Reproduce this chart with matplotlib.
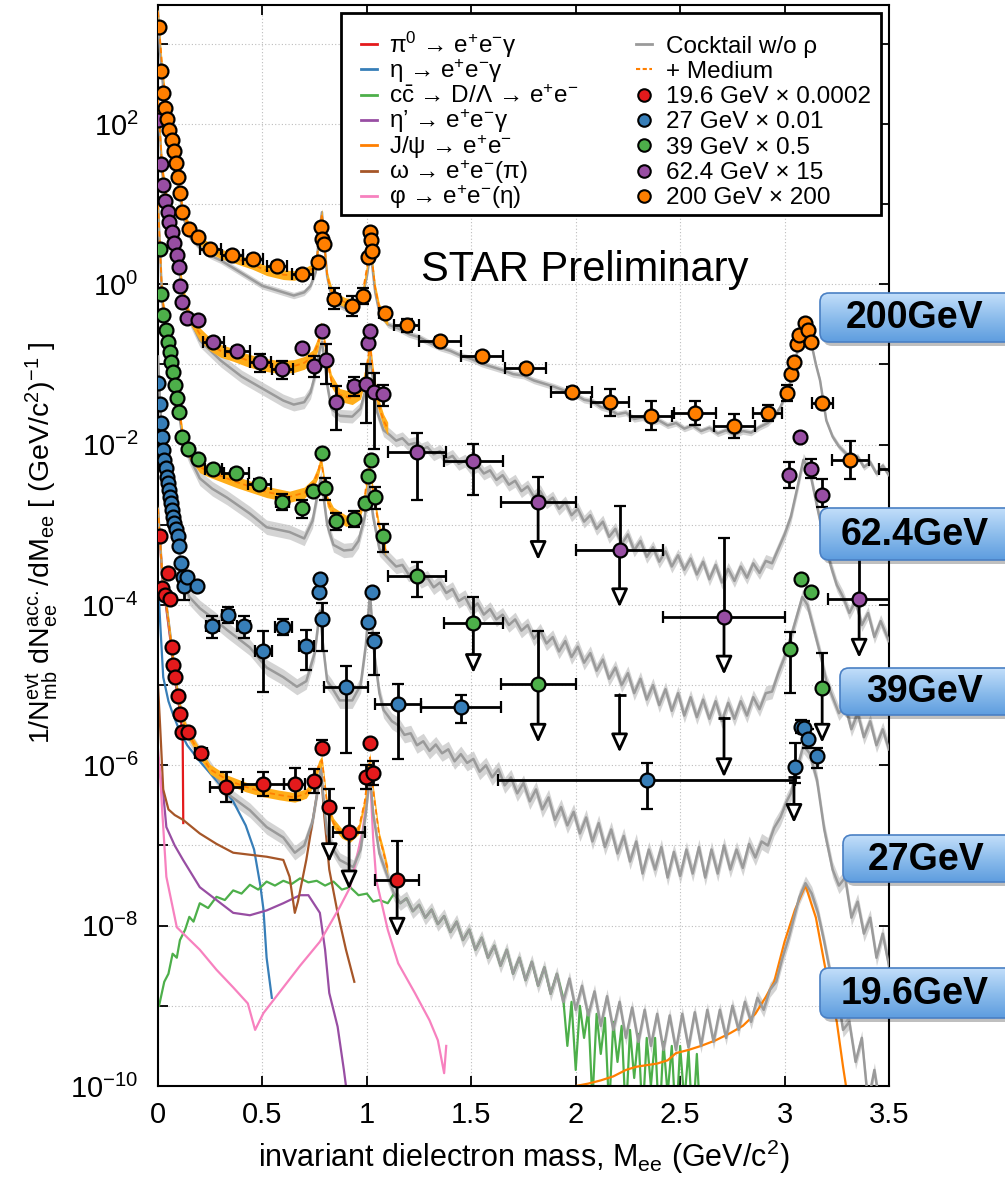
import numpy as np
import matplotlib
matplotlib.use("Agg")
import matplotlib.pyplot as plt
from matplotlib.patches import FancyBboxPatch, Rectangle
from matplotlib.ticker import FixedLocator, NullFormatter, LogFormatterSciNotation
from matplotlib.colors import LinearSegmentedColormap

plt.rcParams['font.family'] = ['Liberation Sans', 'DejaVu Sans']
plt.rcParams['mathtext.fontset'] = 'custom'
plt.rcParams['mathtext.rm'] = 'Liberation Sans'
plt.rcParams['mathtext.it'] = 'Liberation Sans:italic'
plt.rcParams['mathtext.bf'] = 'Liberation Sans:bold'

# ---------------- data (values are log10 of the plotted yield) ----------------
# 200 GeV x 200
m200 = [0.005, 0.015, 0.025, 0.035, 0.045, 0.055, 0.065, 0.075, 0.085, 0.095,
        0.105, 0.115, 0.15, 0.19, 0.25, 0.355, 0.455, 0.57, 0.69, 0.765,
        0.78, 0.785, 0.795, 0.845, 0.93, 0.98, 1.005, 1.015, 1.02, 1.025,
        1.085, 1.19, 1.35, 1.55, 1.76, 1.98, 2.165, 2.36, 2.57, 2.76,
        2.92, 3.01, 3.03, 3.045, 3.06, 3.07, 3.10, 3.11, 3.125, 3.18,
        3.315, 3.55]
lg200 = [3.21, 2.66, 2.39, 2.20, 2.06, 1.93, 1.80, 1.66, 1.51, 1.34,
         1.14, 0.90, 0.69, 0.59, 0.44, 0.37, 0.32, 0.23, 0.13, 0.28,
         0.72, 0.57, 0.50, -0.18, -0.27, -0.14, 0.34, 0.65, 0.55, 0.42,
         -0.36, -0.51, -0.71, -0.89, -1.04, -1.34, -1.47, -1.64, -1.60, -1.77,
         -1.60, -1.35, -1.12, -0.97, -0.74, -0.63, -0.48, -0.57, -0.72, -1.48,
         -2.19, -2.30]
dm200 = [0, 0, 0, 0, 0, 0, 0, 0, 0, 0,
         0, 0, 0, 0, 0.05, 0.05, 0.05, 0.05, 0.05, 0,
         0, 0, 0, 0.025, 0.02, 0, 0, 0, 0, 0,
         0.025, 0.06, 0.1, 0.1, 0.1, 0.1, 0.09, 0.1, 0.1, 0.1,
         0.07, 0, 0, 0, 0, 0, 0, 0, 0, 0.05,
         0.09, 0.1]
dl200 = [0.02, 0.02, 0.02, 0.02, 0.02, 0.02, 0.02, 0.02, 0.02, 0.02,
         0.02, 0.02, 0.02, 0.02, 0.04, 0.04, 0.04, 0.05, 0.05, 0.05,
         0.03, 0.03, 0.03, 0.13, 0.12, 0.1, 0.03, 0.03, 0.03, 0.03,
         0.06, 0.08, 0.05, 0.05, 0.05, 0.06, 0.17, 0.18, 0.15, 0.15,
         0.1, 0.1, 0.03, 0.03, 0.03, 0.03, 0.03, 0.03, 0.03, 0.04,
         0.24, 0.3]

# 62.4 GeV x 15
m62 = [0.0, 0.015, 0.024, 0.035, 0.046, 0.055, 0.065, 0.075, 0.09, 0.10,
       0.105, 0.115, 0.14, 0.19, 0.265, 0.38, 0.49, 0.595, 0.69, 0.745,
       0.785, 0.805, 0.85, 0.94, 0.995, 1.005, 1.015, 1.035, 1.075, 1.24,
       1.51, 1.82, 2.21, 2.71, 3.02, 3.075, 3.127, 3.18, 3.357]
lg62 = [2.05, 1.50, 1.24, 1.04, 0.90, 0.78, 0.65, 0.52, 0.37, 0.22,
        -0.02, -0.22, -0.42, -0.44, -0.72, -0.83, -0.97, -1.06, -0.79, -1.02,
        -0.58, -0.94, -1.47, -1.27, -1.24, -0.73, -0.58, -1.34, -1.37, -2.09,
        -2.20, -2.71, -3.31, -4.15, -2.38, -1.90, -2.30, -2.63, -3.92]
dm62 = [0, 0, 0, 0, 0, 0, 0, 0, 0, 0,
        0, 0, 0, 0, 0.05, 0.06, 0.05, 0.05, 0, 0,
        0, 0, 0, 0.025, 0, 0, 0, 0, 0, 0.14,
        0.14, 0.18, 0.21, 0.29, 0, 0, 0, 0, 0.15]
dlo62 = [0.02, 0.02, 0.02, 0.02, 0.02, 0.02, 0.02, 0.02, 0.02, 0.02,
         0.02, 0.02, 0.02, 0.02, 0.05, 0.05, 0.12, 0.12, 0.03, 0.13,
         0.04, 0.3, 0.35, 0.12, 0.49, 0.03, 0.03, 0.72, 0.15, 0.6,
         0.43, 0, 0, 0, 0.16, 0.03, 0.12, 0.15, 0]
dhi62 = [0.02, 0.02, 0.02, 0.02, 0.02, 0.02, 0.02, 0.02, 0.02, 0.02,
         0.02, 0.02, 0.02, 0.02, 0.05, 0.05, 0.1, 0.1, 0.03, 0.13,
         0.04, 0.2, 0.2, 0.12, 0.24, 0.03, 0.03, 0.24, 0.12, 0.24,
         0.21, 0.31, 0.55, 0.98, 0.16, 0.03, 0.12, 0.2, 0.52]
lim62_m = [1.82, 2.21, 2.71, 3.357]
lim62_top = [-2.71, -3.31, -4.15, -3.92]
lim62_tip = [-3.44, -4.03, -4.87, -4.66]

# 39 GeV x 0.5
m39 = [0.01, 0.015, 0.025, 0.038, 0.048, 0.057, 0.062, 0.072, 0.08, 0.09,
       0.10, 0.115, 0.145, 0.19, 0.265, 0.375, 0.485, 0.595, 0.69, 0.74,
       0.785, 0.80, 0.85, 0.94, 0.99, 1.005, 1.02, 1.04, 1.075, 1.24,
       1.51, 1.82, 3.027, 3.08, 3.127, 3.18]
lg39 = [0.44, -0.12, -0.38, -0.57, -0.72, -0.84, -0.97, -1.09, -1.26, -1.42,
        -1.59, -1.90, -2.05, -2.18, -2.30, -2.35, -2.49, -2.71, -2.79, -2.58,
        -2.11, -2.54, -2.95, -2.93, -2.73, -2.39, -2.19, -2.65, -3.14, -3.64,
        -4.22, -4.98, -4.55, -3.67, -3.84, -5.04]
dm39 = [0, 0, 0, 0, 0, 0, 0, 0, 0, 0,
        0, 0, 0, 0, 0.04, 0.06, 0.055, 0.03, 0, 0,
        0, 0, 0, 0, 0, 0, 0, 0, 0, 0.14,
        0.14, 0.18, 0, 0, 0, 0]
dlo39 = [0.02, 0.02, 0.02, 0.02, 0.02, 0.02, 0.02, 0.02, 0.02, 0.02,
         0.02, 0.02, 0.02, 0.02, 0.04, 0.05, 0.06, 0.1, 0.12, 0.05,
         0.03, 0.15, 0.12, 0.1, 0.05, 0.03, 0.03, 0.15, 0.2, 0.26,
         0, 0, 0.55, 0.03, 0.03, 0]
dhi39 = [0.02, 0.02, 0.02, 0.02, 0.02, 0.02, 0.02, 0.02, 0.02, 0.02,
         0.02, 0.02, 0.02, 0.02, 0.04, 0.05, 0.06, 0.1, 0.1, 0.05,
         0.03, 0.12, 0.1, 0.1, 0.05, 0.03, 0.03, 0.12, 0.15, 0.18,
         0.32, 0.65, 0.21, 0.03, 0.03, 0.44]
lim39_m = [1.51, 1.82, 3.18]
lim39_top = [-4.22, -4.98, -5.04]
lim39_tip = [-4.85, -5.72, -5.72]
ul39_m = [2.21, 2.71]
ul39_top = [-5.12, -5.41]
ul39_tip = [-5.84, -6.15]

# 27 GeV x 0.01
m27 = [0.0, 0.01, 0.015, 0.02, 0.025, 0.03, 0.037, 0.043, 0.048, 0.053,
       0.057, 0.062, 0.067, 0.072, 0.077, 0.086, 0.096, 0.10, 0.11, 0.12,
       0.125, 0.14, 0.187, 0.26, 0.335, 0.41, 0.505, 0.60, 0.71, 0.77,
       0.775, 0.785, 0.90, 1.005, 1.025, 1.035, 1.15, 1.45, 2.34, 3.05,
       3.08, 3.095, 3.11, 3.155]
lg27 = [-1.23, -1.49, -1.73, -1.90, -2.07, -2.19, -2.29, -2.40, -2.48, -2.56,
        -2.65, -2.73, -2.81, -2.90, -2.98, -3.05, -3.14, -3.27, -3.47, -3.65,
        -3.76, -3.65, -3.76, -4.26, -4.12, -4.26, -4.57, -4.27, -4.51, -3.84,
        -3.67, -4.18, -5.02, -4.21, -3.84, -4.45, -5.23, -5.27, -6.18, -6.02,
        -5.52, -5.53, -5.67, -5.88]
dm27 = [0, 0, 0, 0, 0, 0, 0, 0, 0, 0,
        0, 0, 0, 0, 0, 0, 0, 0, 0, 0,
        0, 0, 0.02, 0.03, 0.03, 0.03, 0.04, 0.04, 0.035, 0,
        0, 0, 0.105, 0, 0, 0, 0.11, 0.19, 0.71, 0,
        0, 0, 0, 0]
dlo27 = [0.02, 0.02, 0.02, 0.02, 0.02, 0.02, 0.02, 0.02, 0.02, 0.02,
         0.02, 0.02, 0.02, 0.02, 0.02, 0.02, 0.02, 0.02, 0.02, 0.02,
         0.18, 0.03, 0.05, 0.15, 0.1, 0.15, 0.52, 0.1, 0.3, 0.03,
         0.03, 0.4, 0.82, 0.03, 0.03, 0.42, 0.69, 0.2, 0.37, 0.2,
         0.08, 0.08, 0.12, 0.15]
dhi27 = [0.02, 0.02, 0.02, 0.02, 0.02, 0.02, 0.02, 0.02, 0.02, 0.02,
         0.02, 0.02, 0.02, 0.02, 0.02, 0.02, 0.02, 0.02, 0.02, 0.02,
         0.0, 0.03, 0.05, 0.12, 0.1, 0.12, 0.24, 0.1, 0.2, 0.03,
         0.03, 0.2, 0.26, 0.03, 0.03, 0.1, 0.24, 0.15, 0.21, 0.3,
         0.08, 0.08, 0.12, 0.1]
ul27_m = [3.045]
ul27_top = [-6.14]
ul27_tip = [-6.72]

# 19.6 GeV x 0.0002
m19 = [0.01, 0.019, 0.033, 0.048, 0.057, 0.067, 0.072, 0.081, 0.096, 0.105,
       0.115, 0.144, 0.205, 0.325, 0.505, 0.655, 0.745, 0.785, 0.82, 0.915,
       0.995, 1.015, 1.03, 1.145]
lg19 = [-3.14, -3.79, -3.87, -3.60, -3.92, -4.52, -4.75, -4.90, -5.14, -5.36,
        -5.59, -5.59, -5.84, -6.27, -6.23, -6.23, -6.19, -5.78, -6.52, -6.83,
        -6.14, -5.72, -6.10, -7.43]
dm19 = [0, 0, 0, 0, 0, 0, 0, 0, 0, 0,
        0, 0, 0.03, 0.077, 0.1, 0.05, 0, 0, 0, 0.075,
        0, 0, 0, 0.105]
dlo19 = [0.06, 0.02, 0.02, 0.02, 0.02, 0.02, 0.02, 0.02, 0.02, 0.02,
         0.02, 0.02, 0.03, 0.19, 0.15, 0.2, 0.15, 0.05, 0, 0,
         0.15, 0.03, 0.15, 0]
dhi19 = [0.06, 0.02, 0.02, 0.02, 0.02, 0.02, 0.02, 0.02, 0.02, 0.02,
         0.02, 0.02, 0.03, 0.19, 0.15, 0.2, 0.15, 0.1, 0.22, 0.3,
         0.15, 0.03, 0.15, 0.48]
lim19_m = [0.82, 0.915, 1.145]
lim19_top = [-6.52, -6.83, -7.43]
lim19_tip = [-7.21, -7.55, -8.14]

# cocktail w/o rho (grey), (mass, log10 yield) pairs
coc200 = [(0.0, 3.4), (0.01, 2.9), (0.03, 2.3), (0.05, 1.95), (0.08, 1.5), (0.1, 1.2), (0.12, 0.85),
          (0.15, 0.6), (0.2, 0.46), (0.25, 0.36), (0.3, 0.3), (0.35, 0.22), (0.4, 0.14), (0.45, 0.06),
          (0.5, -0.02), (0.55, -0.06), (0.6, -0.1), (0.65, -0.14), (0.7, -0.1), (0.73, -0.02),
          (0.755, 0.15), (0.775, 0.7), (0.785, 0.9), (0.795, 0.55), (0.81, 0.1), (0.83, -0.15),
          (0.86, -0.25), (0.9, -0.3), (0.95, -0.28), (0.98, -0.15), (1.0, 0.1), (1.015, 0.36),
          (1.025, 0.25), (1.04, -0.1), (1.06, -0.35), (1.1, -0.5), (1.15, -0.55), (1.2, -0.62),
          (1.25, -0.66), (1.3, -0.73), (1.35, -0.79), (1.4, -0.83), (1.45, -0.89), (1.5, -0.93),
          (1.55, -0.99), (1.6, -1.03), (1.65, -1.07), (1.7, -1.12), (1.75, -1.14), (1.8, -1.20),
          (1.85, -1.24), (1.9, -1.28), (1.95, -1.33), (2.0, -1.38), (2.04, -1.44), (2.08, -1.46),
          (2.12, -1.53), (2.16, -1.56), (2.20, -1.62), (2.24, -1.60), (2.28, -1.68), (2.32, -1.66),
          (2.36, -1.72), (2.40, -1.70), (2.44, -1.76), (2.48, -1.73), (2.52, -1.80), (2.56, -1.76),
          (2.60, -1.83), (2.64, -1.79), (2.68, -1.86), (2.72, -1.82), (2.76, -1.88), (2.80, -1.83),
          (2.84, -1.85), (2.88, -1.78), (2.92, -1.73), (2.95, -1.65), (2.98, -1.53), (3.01, -1.36),
          (3.03, -1.20), (3.05, -0.98), (3.065, -0.79), (3.09, -0.61), (3.12, -0.66), (3.135, -0.82),
          (3.15, -1.0), (3.17, -1.20), (3.2, -1.70), (3.23, -1.90), (3.26, -2.02), (3.29, -2.10),
          (3.32, -2.18), (3.35, -2.15), (3.38, -2.28), (3.41, -2.22), (3.44, -2.36), (3.47, -2.26),
          (3.5, -2.38)]
coc62 = [(0.0, 2.3), (0.02, 1.4), (0.05, 0.85), (0.08, 0.45), (0.1, 0.2), (0.12, -0.15), (0.15, -0.42),
         (0.2, -0.7), (0.3, -0.95), (0.4, -1.15), (0.5, -1.3), (0.6, -1.45), (0.65, -1.5), (0.7, -1.47),
         (0.73, -1.35), (0.755, -1.1), (0.775, -0.8), (0.785, -0.72), (0.795, -0.9), (0.81, -1.25),
         (0.83, -1.55), (0.87, -1.64), (0.93, -1.65), (0.97, -1.55), (0.995, -1.3), (1.015, -0.9),
         (1.03, -1.2), (1.05, -1.6), (1.08, -1.82), (1.11, -1.88), (1.14, -1.95), (1.17, -1.92),
         (1.20, -2.00), (1.23, -1.98), (1.26, -2.06), (1.29, -2.03), (1.32, -2.12), (1.35, -2.08),
         (1.38, -2.18), (1.41, -2.14), (1.44, -2.24), (1.47, -2.20), (1.50, -2.30), (1.53, -2.26),
         (1.56, -2.36), (1.59, -2.32), (1.62, -2.44), (1.65, -2.38), (1.68, -2.50), (1.71, -2.45),
         (1.74, -2.58), (1.77, -2.52), (1.80, -2.65), (1.83, -2.58), (1.86, -2.72), (1.89, -2.66),
         (1.92, -2.80), (1.95, -2.72), (1.98, -2.88), (2.01, -2.80), (2.04, -2.96), (2.07, -2.88),
         (2.10, -3.05), (2.13, -2.96), (2.16, -3.15), (2.19, -3.05), (2.22, -3.24), (2.25, -3.12),
         (2.28, -3.32), (2.31, -3.20), (2.34, -3.40), (2.37, -3.28), (2.40, -3.46), (2.43, -3.33),
         (2.46, -3.52), (2.49, -3.38), (2.52, -3.56), (2.55, -3.42), (2.58, -3.62), (2.61, -3.46),
         (2.64, -3.68), (2.67, -3.50), (2.70, -3.72), (2.73, -3.55), (2.76, -3.70), (2.79, -3.52),
         (2.82, -3.66), (2.85, -3.48), (2.88, -3.60), (2.91, -3.45), (2.94, -3.48), (2.97, -3.30),
         (3.00, -3.12), (3.03, -2.9), (3.06, -2.55), (3.09, -2.19), (3.12, -2.32), (3.15, -2.7),
         (3.18, -3.07), (3.22, -3.5), (3.25, -3.75), (3.28, -3.9), (3.31, -4.1), (3.34, -3.95),
         (3.37, -4.25), (3.40, -4.1), (3.43, -4.4), (3.46, -4.2), (3.5, -4.45)]
coc39 = [(0.0, 1.0), (0.01, 0.4), (0.02, -0.2), (0.04, -0.6), (0.06, -0.9), (0.08, -1.25), (0.1, -1.6),
         (0.12, -1.95), (0.15, -2.15), (0.2, -2.42), (0.26, -2.55), (0.33, -2.66), (0.44, -2.86),
         (0.52, -3.03), (0.63, -3.09), (0.70, -3.17), (0.74, -2.95), (0.765, -2.6), (0.78, -2.41),
         (0.79, -2.6), (0.81, -3.0), (0.84, -3.25), (0.89, -3.32), (0.93, -3.31), (0.96, -3.2),
         (0.99, -2.9), (1.01, -2.48), (1.03, -2.9), (1.06, -3.3), (1.11, -3.44), (1.14, -3.52),
         (1.17, -3.50), (1.20, -3.62), (1.23, -3.58), (1.26, -3.70), (1.29, -3.66), (1.32, -3.78),
         (1.35, -3.72), (1.38, -3.85), (1.41, -3.80), (1.44, -3.95), (1.47, -3.90), (1.50, -4.05),
         (1.53, -3.98), (1.56, -4.12), (1.59, -4.05), (1.62, -4.18), (1.65, -4.12), (1.68, -4.25),
         (1.71, -4.18), (1.74, -4.32), (1.77, -4.25), (1.80, -4.42), (1.83, -4.32), (1.86, -4.48),
         (1.89, -4.40), (1.92, -4.58), (1.95, -4.45), (1.98, -4.65), (2.01, -4.52), (2.04, -4.72),
         (2.07, -4.60), (2.10, -4.82), (2.13, -4.68), (2.16, -4.92), (2.19, -4.78), (2.22, -5.00),
         (2.25, -4.85), (2.28, -5.10), (2.31, -4.92), (2.34, -5.18), (2.37, -5.00), (2.40, -5.25),
         (2.43, -5.05), (2.46, -5.32), (2.49, -5.10), (2.52, -5.38), (2.55, -5.15), (2.58, -5.40),
         (2.61, -5.18), (2.64, -5.42), (2.67, -5.20), (2.70, -5.45), (2.73, -5.22), (2.76, -5.42),
         (2.79, -5.20), (2.82, -5.38), (2.85, -5.15), (2.88, -5.30), (2.91, -5.10), (2.94, -5.08),
         (2.97, -4.85), (3.00, -4.65), (3.04, -4.31), (3.085, -3.90), (3.11, -4.0), (3.14, -4.3),
         (3.17, -4.6), (3.2, -4.95), (3.23, -5.15), (3.26, -5.35), (3.29, -5.25), (3.32, -5.55),
         (3.35, -5.35), (3.38, -5.65), (3.41, -5.45), (3.44, -5.75), (3.47, -5.55), (3.5, -5.8)]
coc27 = [(0.0, -0.9), (0.01, -1.5), (0.02, -1.9), (0.04, -2.35), (0.06, -2.7), (0.08, -3.0), (0.1, -3.3),
         (0.12, -3.7), (0.15, -3.9), (0.2, -4.04), (0.27, -4.18), (0.33, -4.31), (0.44, -4.53),
         (0.52, -4.78), (0.6, -4.90), (0.665, -5.02), (0.71, -4.95), (0.75, -4.6), (0.775, -4.07),
         (0.79, -4.5), (0.81, -4.95), (0.83, -5.02), (0.87, -5.19), (0.93, -5.19), (0.97, -5.0),
         (0.995, -4.5), (1.015, -3.85), (1.035, -4.6), (1.06, -5.1), (1.08, -5.31), (1.12, -5.45),
         (1.15, -5.50), (1.18, -5.62), (1.21, -5.60), (1.24, -5.75), (1.27, -5.70), (1.30, -5.82),
         (1.33, -5.74), (1.36, -5.85), (1.39, -5.80), (1.42, -5.95), (1.45, -5.86), (1.48, -5.97),
         (1.51, -5.92), (1.54, -6.08), (1.57, -6.00), (1.60, -6.15), (1.63, -6.05), (1.66, -6.25),
         (1.69, -6.15), (1.72, -6.35), (1.75, -6.22), (1.78, -6.45), (1.81, -6.30), (1.84, -6.55),
         (1.87, -6.40), (1.90, -6.68), (1.93, -6.52), (1.96, -6.75), (1.99, -6.58), (2.02, -6.85),
         (2.05, -6.65), (2.08, -6.95), (2.11, -6.72), (2.14, -7.02), (2.17, -6.80), (2.20, -7.10),
         (2.23, -6.88), (2.26, -7.20), (2.29, -6.95), (2.32, -7.35), (2.35, -7.05), (2.38, -7.30),
         (2.41, -7.02), (2.44, -7.40), (2.47, -7.08), (2.50, -7.38), (2.53, -7.05), (2.56, -7.35),
         (2.59, -7.02), (2.62, -7.40), (2.65, -7.05), (2.68, -7.35), (2.71, -7.00), (2.74, -7.30),
         (2.77, -7.05), (2.80, -7.28), (2.83, -6.98), (2.86, -7.15), (2.89, -6.95), (2.92, -7.0),
         (2.95, -6.78), (2.98, -6.65), (3.01, -6.45), (3.03, -6.35), (3.05, -6.15), (3.07, -5.95),
         (3.09, -5.75), (3.12, -5.85), (3.155, -6.18), (3.19, -6.8), (3.23, -7.3), (3.26, -7.5),
         (3.29, -7.4), (3.32, -7.9), (3.35, -7.7), (3.38, -8.1), (3.41, -7.9), (3.44, -8.4),
         (3.47, -8.1), (3.5, -8.5)]
coc19 = [(0.0, -2.8), (0.01, -3.2), (0.02, -3.6), (0.04, -4.0), (0.06, -4.4), (0.08, -4.85), (0.1, -5.2),
         (0.12, -5.44), (0.15, -5.65), (0.2, -5.85), (0.28, -6.15), (0.33, -6.35), (0.44, -6.56),
         (0.52, -6.77), (0.60, -6.90), (0.655, -7.09), (0.70, -7.0), (0.74, -6.7), (0.765, -6.3),
         (0.78, -6.02), (0.795, -6.5), (0.81, -6.85), (0.84, -7.05), (0.87, -7.18), (0.935, -7.27),
         (0.97, -7.05), (0.995, -6.6), (1.015, -6.10), (1.03, -6.6), (1.06, -7.1), (1.10, -7.39),
         (1.13, -7.60), (1.16, -7.72), (1.19, -7.66), (1.22, -7.82), (1.25, -7.74), (1.28, -7.90),
         (1.31, -7.80), (1.34, -7.98), (1.37, -7.88), (1.40, -8.08), (1.43, -7.95), (1.46, -8.18),
         (1.49, -8.05), (1.52, -8.30), (1.55, -8.15), (1.58, -8.40), (1.61, -8.25), (1.64, -8.50),
         (1.67, -8.30), (1.70, -8.60), (1.73, -8.40), (1.76, -8.68), (1.79, -8.45), (1.82, -8.75),
         (1.85, -8.52), (1.88, -8.85), (1.91, -8.60), (1.94, -8.95), (1.97, -8.66), (2.00, -9.05),
         (2.03, -8.75), (2.06, -9.12), (2.09, -8.82), (2.12, -9.25), (2.15, -8.88), (2.18, -9.30),
         (2.21, -8.95), (2.24, -9.40), (2.27, -9.02), (2.30, -9.45), (2.33, -9.05), (2.36, -9.50),
         (2.39, -9.10), (2.42, -9.55), (2.45, -9.12), (2.48, -9.55), (2.51, -9.10), (2.54, -9.52),
         (2.57, -9.08), (2.60, -9.50), (2.63, -9.05), (2.66, -9.45), (2.69, -9.05), (2.72, -9.40),
         (2.75, -9.00), (2.78, -9.30), (2.81, -8.95), (2.84, -9.20), (2.87, -8.90), (2.90, -9.05),
         (2.93, -8.80), (2.96, -8.70), (2.99, -8.40), (3.02, -8.15), (3.05, -7.85), (3.07, -7.65),
         (3.10, -7.47), (3.13, -7.6), (3.16, -7.84), (3.19, -8.2), (3.22, -8.6), (3.25, -8.8),
         (3.28, -9.3), (3.31, -9.2), (3.34, -9.7), (3.37, -9.4), (3.40, -10.2), (3.43, -9.8),
         (3.46, -10.3), (3.5, -10.2)]
coc_unc = [0.04, 0.08, 0.09, 0.1, 0.09]   # half width of grey band, decades

# cocktail + medium (orange band)
med200 = [(0.0, 3.4), (0.02, 2.7), (0.05, 2.0), (0.08, 1.55), (0.1, 1.25), (0.12, 0.9), (0.15, 0.7),
          (0.2, 0.55), (0.25, 0.45), (0.3, 0.38), (0.36, 0.33), (0.45, 0.25), (0.52, 0.17), (0.6, 0.12),
          (0.65, 0.11), (0.7, 0.14), (0.74, 0.2), (0.76, 0.3), (0.775, 0.7), (0.785, 0.88), (0.795, 0.55),
          (0.81, 0.1), (0.83, -0.08), (0.86, -0.18), (0.9, -0.23), (0.95, -0.24), (0.98, -0.1),
          (1.0, 0.2), (1.015, 0.5), (1.025, 0.3), (1.04, -0.05), (1.06, -0.3), (1.08, -0.4), (1.1, -0.45)]
med62 = [(0.0, 2.3), (0.02, 1.45), (0.05, 0.9), (0.08, 0.5), (0.1, 0.25), (0.12, -0.1), (0.15, -0.4),
         (0.2, -0.62), (0.25, -0.75), (0.3, -0.83), (0.36, -0.88), (0.42, -0.94), (0.5, -1.0),
         (0.58, -1.03), (0.65, -1.02), (0.7, -0.98), (0.74, -0.9), (0.765, -0.75), (0.78, -0.55),
         (0.79, -0.6), (0.81, -0.95), (0.83, -1.2), (0.87, -1.38), (0.93, -1.42), (0.97, -1.35),
         (0.995, -1.1), (1.015, -0.75), (1.03, -1.1), (1.05, -1.45), (1.08, -1.7), (1.1, -1.8)]
med39 = [(0.0, 1.0), (0.02, -0.15), (0.05, -0.75), (0.08, -1.2), (0.1, -1.55), (0.12, -1.9), (0.15, -2.1),
         (0.2, -2.28), (0.24, -2.33), (0.38, -2.47), (0.52, -2.59), (0.63, -2.65), (0.7, -2.6),
         (0.74, -2.5), (0.765, -2.35), (0.78, -2.19), (0.79, -2.35), (0.81, -2.7), (0.84, -2.85),
         (0.9, -2.95), (0.96, -2.9), (0.99, -2.65), (1.01, -2.23), (1.03, -2.6), (1.06, -3.05), (1.09, -3.32)]
med19 = [(0.0, -2.8), (0.02, -3.6), (0.05, -4.2), (0.08, -4.85), (0.1, -5.2), (0.12, -5.45), (0.15, -5.63),
         (0.2, -5.85), (0.25, -6.05), (0.33, -6.18), (0.42, -6.27), (0.5, -6.33), (0.58, -6.37),
         (0.655, -6.40), (0.71, -6.35), (0.745, -6.2), (0.77, -6.0), (0.785, -5.94), (0.795, -6.15),
         (0.81, -6.5), (0.84, -6.72), (0.88, -6.85), (0.92, -6.90), (0.96, -6.8), (0.99, -6.45),
         (1.015, -5.9), (1.03, -6.3), (1.06, -6.9), (1.08, -7.09), (1.10, -7.31)]
med_unc = [0.06, 0.08, 0.07, 0.06]

# cocktail components (19.6 GeV x 0.0002)
pi0_c = [(0.0, -2.9), (0.01, -3.2), (0.02, -3.65), (0.04, -4.05), (0.06, -4.45), (0.08, -4.9),
         (0.1, -5.25), (0.11, -5.45), (0.118, -5.6), (0.121, -6.72)]
eta_c = [(0.0, -3.7), (0.01, -4.2), (0.025, -4.9), (0.05, -5.2), (0.07, -5.35), (0.1, -5.55),
         (0.14, -5.75), (0.2, -5.95), (0.3, -6.25), (0.36, -6.45), (0.42, -6.75), (0.46, -7.05),
         (0.49, -7.5), (0.505, -7.8), (0.52, -8.4), (0.545, -8.9)]
ccb_low = [(0.005, -9.0), (0.03, -8.7), (0.05, -8.6), (0.07, -8.35), (0.09, -8.4), (0.105, -8.18),
           (0.13, -8.05), (0.15, -7.89), (0.17, -7.95), (0.2, -7.72), (0.24, -7.78), (0.28, -7.64),
           (0.32, -7.68), (0.36, -7.56), (0.4, -7.6), (0.44, -7.49), (0.48, -7.55), (0.52, -7.45),
           (0.56, -7.5), (0.6, -7.44), (0.64, -7.48), (0.68, -7.41), (0.72, -7.46), (0.76, -7.44),
           (0.8, -7.5), (0.84, -7.45), (0.88, -7.55), (0.92, -7.52), (0.96, -7.62), (1.0, -7.6),
           (1.03, -7.7), (1.06, -7.68), (1.10, -7.72)]
ccb_high = [(1.94, -8.9), (1.96, -9.5), (1.98, -8.95), (2.0, -9.8), (2.02, -9.0), (2.04, -9.4),
            (2.06, -9.05), (2.08, -10.2), (2.10, -9.1), (2.12, -9.6), (2.14, -9.15), (2.16, -10.3),
            (2.18, -9.2), (2.20, -9.7), (2.22, -9.25), (2.24, -10.4), (2.26, -9.3), (2.28, -9.9),
            (2.30, -9.35), (2.32, -10.4), (2.34, -9.4), (2.36, -10.0), (2.38, -9.4), (2.40, -10.5),
            (2.42, -9.45), (2.44, -10.1), (2.46, -9.5), (2.48, -10.5), (2.50, -9.5), (2.52, -10.2),
            (2.54, -9.55), (2.56, -10.5), (2.58, -9.6), (2.60, -10.6)]
etap_c = [(0.0, -5.9), (0.01, -6.1), (0.025, -6.35), (0.04, -6.77), (0.08, -7.0), (0.12, -7.18),
          (0.2, -7.52), (0.28, -7.68), (0.36, -7.84), (0.44, -7.87), (0.52, -7.81), (0.60, -7.72),
          (0.68, -7.62), (0.72, -7.62), (0.775, -7.84), (0.80, -8.3), (0.82, -8.84), (0.86, -9.26),
          (0.89, -9.8), (0.91, -10.2)]
jpsi_c = [(1.88, -10.1), (1.94, -10.05), (2.0, -10.0), (2.06, -9.97), (2.12, -9.93), (2.18, -9.88),
          (2.24, -9.80), (2.29, -9.76), (2.34, -9.74), (2.39, -9.72), (2.44, -9.68), (2.48, -9.59),
          (2.54, -9.55), (2.60, -9.50), (2.67, -9.43), (2.74, -9.34), (2.8, -9.25), (2.86, -9.1),
          (2.91, -8.89), (2.95, -8.7), (3.0, -8.2), (3.05, -7.8), (3.10, -7.5), (3.15, -7.9),
          (3.2, -8.6), (3.25, -9.2), (3.28, -9.76), (3.3, -10.1)]
omg_c = [(0.0, -5.0), (0.01, -5.5), (0.025, -6.3), (0.05, -6.55), (0.08, -6.62), (0.12, -6.68),
         (0.2, -6.85), (0.28, -6.98), (0.36, -7.09), (0.455, -7.12), (0.52, -7.14), (0.60, -7.18),
         (0.63, -7.39), (0.655, -7.84), (0.67, -7.7), (0.71, -7.18), (0.74, -6.7), (0.765, -6.3),
         (0.78, -6.05), (0.795, -6.6), (0.82, -7.3), (0.86, -7.84), (0.9, -8.3), (0.94, -8.70)]
phi_c = [(0.0, -5.8), (0.01, -6.1), (0.02, -6.56), (0.04, -7.39), (0.09, -8.02), (0.2, -8.30),
         (0.28, -8.55), (0.36, -8.77), (0.43, -8.97), (0.465, -9.30), (0.505, -9.09), (0.60, -8.77),
         (0.68, -8.50), (0.775, -8.2), (0.87, -7.77), (0.92, -7.52), (0.98, -6.81), (1.015, -6.12),
         (1.03, -6.9), (1.045, -7.43), (1.10, -8.05), (1.15, -8.47), (1.23, -8.84), (1.30, -9.18),
         (1.34, -9.43), (1.37, -9.84), (1.38, -9.5)]
# charm is the whole cocktail between the phi and the J/psi
ccb_c = ccb_low + [p for p in coc19 if 1.12 < p[0] < 1.92] + ccb_high

comp_labels = [r'π$^{0}$ → e$^{+}$e$^{-}$γ', r'η → e$^{+}$e$^{-}$γ',
               r'c$\bar{\mathrm{c}}$ → D/Λ → e$^{+}$e$^{-}$', r"η’ → e$^{+}$e$^{-}$γ",
               r'J/ψ → e$^{+}$e$^{-}$', r'ω → e$^{+}$e$^{-}$(π)', r'φ → e$^{+}$e$^{-}$(η)']
set_labels = ['19.6 GeV × 0.0002', '27 GeV × 0.01', '39 GeV × 0.5', '62.4 GeV × 15',
              '200 GeV × 200']
tag_text = ['200GeV', '62.4GeV', '39GeV', '27GeV', '19.6GeV']

# ---------------- figure ----------------
fig = plt.figure(figsize=(10.05, 11.81), dpi=100)
ax = fig.add_axes([158 / 1005, 1 - 1086 / 1181, (889 - 158) / 1005, (1086 - 5) / 1181])

c_red, c_blue, c_green = '#e41a1c', '#377eb8', '#4daf4a'
c_purple, c_orange, c_brown, c_pink = '#984ea3', '#ff7f00', '#a65628', '#f781bf'
c_grey, c_band, c_med = '#9a9a9a', '#d4d4d4', '#ffae1a'
comp_colors = [c_red, c_blue, c_green, c_purple, c_orange, c_brown, c_pink]
set_colors = [c_red, c_blue, c_green, c_purple, c_orange]


def v(lst):
    return 10.0 ** np.asarray(lst, dtype=float)


def split(pairs):
    a = np.asarray(pairs, dtype=float)
    return a[:, 0], a[:, 1]


# components
for pairs, cc in zip([pi0_c, eta_c, ccb_c, etap_c, jpsi_c, omg_c, phi_c], comp_colors):
    mm, ll = split(pairs)
    ax.plot(mm, v(ll), color=cc, lw=1.6, zorder=2)

# cocktails with grey bands
for pairs, w in zip([coc200, coc62, coc39, coc27, coc19], coc_unc):
    mm, ll = split(pairs)
    ax.fill_between(mm, v(ll - w), v(ll + w), color=c_band, lw=0, zorder=1)
    ax.plot(mm, v(ll), color=c_grey, lw=1.8, zorder=3)

# medium
for pairs, w in zip([med200, med62, med39, med19], med_unc):
    mm, ll = split(pairs)
    ax.fill_between(mm, v(ll - w), v(ll + w), color=c_med, lw=0, zorder=4)
    ax.plot(mm, v(ll), color=c_orange, lw=1.3, ls=(0, (3, 2)), zorder=4.5)


def draw_set(m, lg, dm, dlo, dhi, color):
    y = v(lg)
    lo = y - y * 10.0 ** (-np.asarray(dlo))
    hi = y * 10.0 ** np.asarray(dhi) - y
    ax.errorbar(m, y, xerr=dm, yerr=[lo, hi], fmt='o', ms=10, mfc=color, mec='black',
                mew=1.6, ecolor='black', elinewidth=2, capsize=4, capthick=2, zorder=7)


def draw_arrows(ms, tops, tips, cap=False):
    for m, a, b in zip(ms, tops, tips):
        ax.annotate('', xy=(m, 10.0 ** b), xytext=(m, 10.0 ** a),
                    arrowprops=dict(arrowstyle='-|>,head_length=0.55,head_width=0.25',
                                    fc='white', ec='black', lw=2, shrinkA=0, shrinkB=0,
                                    mutation_scale=20), zorder=6)
        if cap:
            ax.plot([m], [10.0 ** a], marker='_', ms=9, mew=2, color='black', zorder=6)


draw_set(m19, lg19, dm19, dlo19, dhi19, c_red)
draw_arrows(lim19_m, lim19_top, lim19_tip)
draw_set(m27, lg27, dm27, dlo27, dhi27, c_blue)
draw_arrows(ul27_m, ul27_top, ul27_tip, cap=True)
draw_set(m39, lg39, dm39, dlo39, dhi39, c_green)
draw_arrows(lim39_m, lim39_top, lim39_tip)
draw_arrows(ul39_m, ul39_top, ul39_tip, cap=True)
draw_set(m62, lg62, dm62, dlo62, dhi62, c_purple)
draw_arrows(lim62_m, lim62_top, lim62_tip)
draw_set(m200, lg200, dm200, dl200, dl200, c_orange)

# axes cosmetics
ax.set_yscale('log')
ax.set_xlim(0, 3.5)
ax.set_ylim(1e-10, 3.05e3)
ax.yaxis.set_major_locator(FixedLocator([10.0 ** k for k in range(-10, 3, 2)]))
ax.yaxis.set_minor_locator(FixedLocator([10.0 ** k for k in range(-9, 4, 2)]))
ax.yaxis.set_major_formatter(LogFormatterSciNotation())
ax.yaxis.set_minor_formatter(NullFormatter())
ax.set_xticks([0, 0.5, 1, 1.5, 2, 2.5, 3, 3.5])
ax.set_xticklabels(['0', '0.5', '1', '1.5', '2', '2.5', '3', '3.5'])
ax.tick_params(which='both', direction='in', top=True, right=True, length=7, width=1.3,
               labelsize=21)
ax.tick_params(axis='x', pad=11)
ax.tick_params(axis='y', pad=14)
ax.grid(True, which='both', axis='y', ls=(0, (1, 2)), color='#bdbdbd', lw=0.8)
ax.grid(True, which='major', axis='x', ls=(0, (1, 2)), color='#bdbdbd', lw=0.8)
for s in ax.spines.values():
    s.set_linewidth(1.5)
ax.set_xlabel(r'invariant dielectron mass, M$_{\mathrm{ee}}$ (GeV/c$^{2}$)', fontsize=22, labelpad=6)
fig.text(42 / 1005, 1 - 543 / 1181,
         r'1/N$_{\mathrm{mb}}^{\mathrm{evt}}$ dN$_{\mathrm{ee}}^{\mathrm{acc.}}$/dM$_{\mathrm{ee}}$ [ (GeV/c$^{2}$)$^{-1}$ ]',
         rotation=90, ha='center', va='center', fontsize=20.5)

fig.text(585 / 1005, 1 - 270 / 1181, 'STAR Preliminary', ha='center', va='center', fontsize=30)

# overlay in pixel coordinates for the legend box and the energy tags
ov = fig.add_axes([0, 0, 1, 1], zorder=20)
ov.axis('off')

# legend (two aligned columns, drawn by hand so the rows line up)
ov.add_patch(Rectangle((341, 13), 540, 202, fc='white', ec='black', lw=2, zorder=1))
row_y = [44 + 25.3 * i for i in range(7)]
for y, c, lab in zip(row_y, comp_colors, comp_labels):
    ov.plot([361, 377], [y, y], color=c, lw=2, zorder=2)
    ov.text(389, y + 8.5, lab, fontsize=17.5, va='baseline', zorder=2)
ov.plot([636, 652], [row_y[0], row_y[0]], color=c_grey, lw=2, zorder=2)
ov.text(666, row_y[0] + 8.5, 'Cocktail w/o ρ', fontsize=17.5, va='baseline', zorder=2)
ov.plot([636, 652], [row_y[1], row_y[1]], color=c_orange, lw=1.5, ls=(0, (2, 1.2)), zorder=2)
ov.text(666, row_y[1] + 8.5, '+ Medium', fontsize=17.5, va='baseline', zorder=2)
for y, c, lab in zip(row_y[2:], set_colors, set_labels):
    ov.plot([644], [y], ls='none', marker='o', ms=9, mfc=c, mec='black', mew=1.5, zorder=2)
    ov.text(666, y + 8.5, lab, fontsize=17.5, va='baseline', zorder=2)

# energy tags on the right
tag_left = [820, 820, 840, 843, 820]
tag_top = [293, 508, 668, 835, 968]
tag_bottom = [342, 560, 715, 882, 1018]
cmap = LinearSegmentedColormap.from_list('tag', ['#c2defa', '#8dbdec', '#5e9ddf'])
grad = np.linspace(0, 1, 64).reshape(-1, 1)
for t, l, tp, bt in zip(tag_text, tag_left, tag_top, tag_bottom):
    shadow = FancyBboxPatch((l + 3, tp + 4), 1020 - l, bt - tp,
                            boxstyle='round,pad=0,rounding_size=9', fc='#000000',
                            ec='none', alpha=0.25)
    ov.add_patch(shadow)
    box = FancyBboxPatch((l, tp), 1020 - l, bt - tp, boxstyle='round,pad=0,rounding_size=9',
                         fc='none', ec='#4a80c4', lw=1.2, zorder=3)
    ov.add_patch(box)
    im = ov.imshow(grad, extent=(l, 1020, bt, tp), cmap=cmap, aspect='auto', origin='upper',
                   zorder=2)
    im.set_clip_path(box)
    ov.text((l + 1005) / 2 + 2, (tp + bt) / 2 + 1, t, ha='center', va='center',
            fontsize=27, fontweight='bold', zorder=4)
ov.set_xlim(0, 1005)
ov.set_ylim(1181, 0)

fig.savefig('out.png', dpi=100)
